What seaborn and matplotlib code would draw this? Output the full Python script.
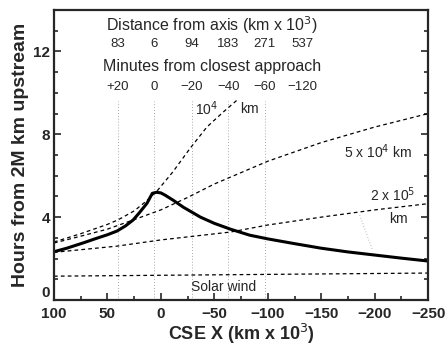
import numpy as np
import pandas as pd
import seaborn as sns
import matplotlib.pyplot as plt
from matplotlib.ticker import MultipleLocator

x_obs = [100, 88, 73, 60, 50, 41, 33, 26, 20, 13, 8, 4, 0, -4, -12, -21, -37, -50, -65, -83,
         -100, -125, -150, -175, -200, -225, -250]
hours_obs = [2.33, 2.5, 2.75, 2.98, 3.15, 3.33, 3.58, 3.86, 4.22, 4.67, 5.15, 5.2, 5.17, 5.06, 4.8,
             4.48, 4.0, 3.7, 3.42, 3.13, 2.95, 2.72, 2.5, 2.32, 2.17, 2.02, 1.88]

x_1e4 = [100, 75, 50, 40, 25, 13, 3, -11, -27, -43, -58, -71]
hours_1e4 = [2.8, 3.2, 3.65, 3.87, 4.3, 4.8, 5.3, 6.17, 7.3, 8.35, 9.06, 9.64]

x_5e4 = [100, 75, 50, 25, 0, -25, -50, -100, -150, -200, -250]
hours_5e4 = [2.75, 3.08, 3.42, 3.88, 4.35, 4.95, 5.6, 6.7, 7.6, 8.35, 9.0]

x_2e5 = [100, 41, 0, -65, -100, -150, -200, -250]
hours_2e5 = [2.3, 2.6, 2.9, 3.28, 3.62, 4.0, 4.35, 4.65]

x_sw = [100, -250]
hours_sw = [1.15, 1.3]

# closest approach markers
marker_x = [40, 6, -29, -63, -97, -132]
distance_labels = ["83", "6", "94", "183", "271", "537"]
minute_labels = ["+20", "0", "\u221220", "\u221240", "\u221260", "\u2212120"]

sns.set_style("ticks")
plt.rcParams["font.family"] = ["Liberation Sans", "DejaVu Sans"]

fig = plt.figure(figsize=(4.46, 3.46), dpi=100)
ax = fig.add_axes([0.121, 0.133, 0.839, 0.838])

for mx in marker_x[:5]:
    ax.plot([mx, mx], [0, 9.6], color="0.55", lw=0.6, ls=(0, (1, 2.5)))

sns.lineplot(x=x_obs, y=hours_obs, ax=ax, color="black", lw=2.2, sort=False)
dash = (0, (3, 2.5))
for xs, ys in [(x_1e4, hours_1e4), (x_5e4, hours_5e4), (x_2e5, hours_2e5), (x_sw, hours_sw)]:
    sns.lineplot(x=xs, y=ys, ax=ax, color="black", lw=0.9, sort=False, linestyle=dash)

ax.plot([-186, -198], [4.1, 2.4], color="0.6", lw=0.6, ls=(0, (1, 2.5)))

ax.set_xlim(100, -250)
ax.set_ylim(0, 14)
ax.set_xticks([100, 50, 0, -50, -100, -150, -200, -250])
ax.set_xticklabels(["100", "50", "0", "\u221250", "\u2212100", "\u2212150", "\u2212200", "\u2212250"])
ax.set_yticks([0, 4, 8, 12])
ax.set_yticklabels(["0", "4", "8", "12"])
ax.yaxis.set_minor_locator(MultipleLocator(1))
ax.xaxis.set_minor_locator(MultipleLocator(25))
ax.tick_params(direction="in", which="both", top=False, right=True, width=1.2)
ax.tick_params(which="major", length=5, labelsize=11)
ax.tick_params(axis="x", which="major", pad=5)
ax.tick_params(axis="y", which="major", pad=3)
ax.tick_params(which="minor", length=3)
for lab in ax.get_xticklabels() + ax.get_yticklabels():
    lab.set_fontweight("bold")
ax.get_yticklabels()[0].set_verticalalignment("bottom")
for s in ax.spines.values():
    s.set_linewidth(1.6)

ax.set_xlabel("CSE X (km x 10$^3$)", fontsize=13, fontweight="bold", labelpad=1)
ax.set_ylabel("Hours from 2M km upstream", fontsize=14, fontweight="bold", labelpad=3)

ax.text(-48, 13.25, "Distance from axis (km x 10$^3$)", fontsize=11.5, ha="center", va="center")
for mx, d in zip(marker_x, distance_labels):
    ax.text(mx, 12.34, d, fontsize=9.5, ha="center", va="center")
ax.text(-48, 11.28, "Minutes from closest approach", fontsize=11.5, ha="center", va="center")
for mx, m in zip(marker_x, minute_labels):
    ax.text(mx, 10.3, m, fontsize=9.5, ha="center", va="center")

ax.text(-43, 9.25, "10$^4$", fontsize=10, ha="center", va="center")
ax.text(-83, 9.2, "km", fontsize=10, ha="center", va="center")
ax.text(-203, 7.18, "5 x 10$^4$ km", fontsize=10, ha="center", va="center")
ax.text(-217, 5.1, "2 x 10$^5$", fontsize=10, ha="center", va="center")
ax.text(-222, 3.9, "km", fontsize=10, ha="center", va="center")
ax.text(-59, 0.63, "Solar wind", fontsize=10, ha="center", va="center")

fig.savefig("out.png", dpi=100)
